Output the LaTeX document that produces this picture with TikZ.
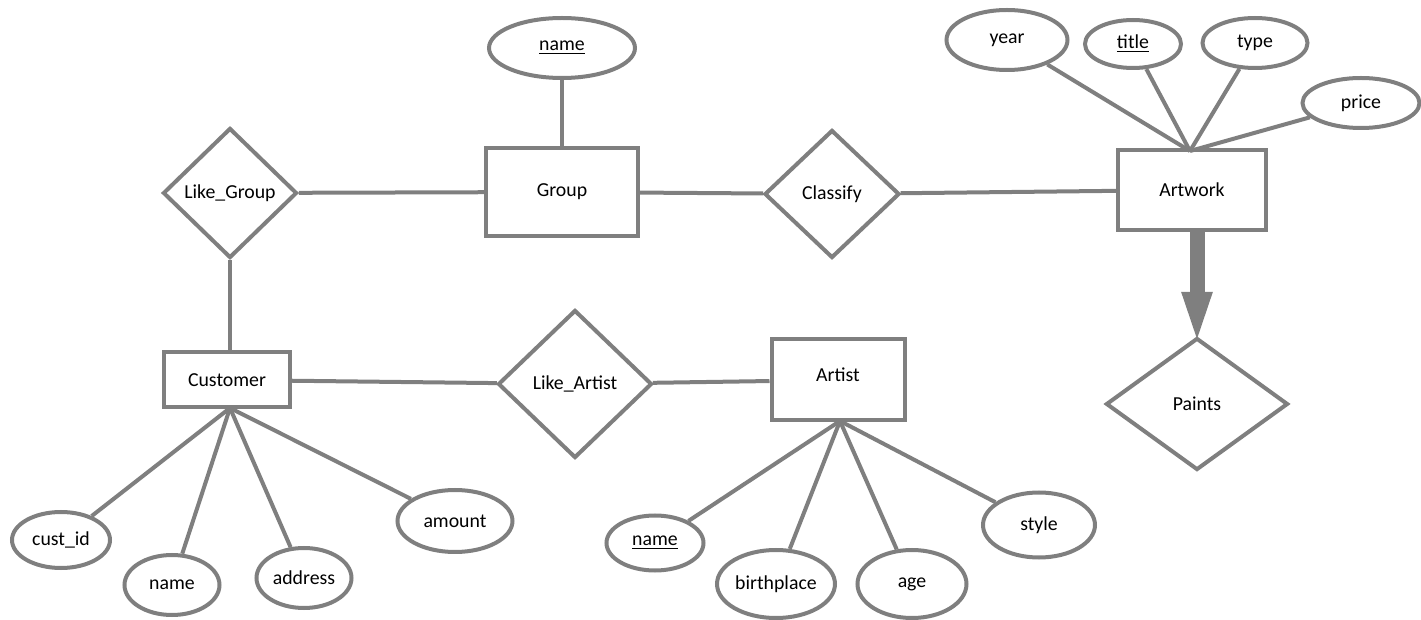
\documentclass[tikz,border=0pt]{standalone}
\usepackage{fontspec}
\setmainfont{Carlito}
\usepackage{tikz}
\usetikzlibrary{arrows.meta,shapes.geometric}
\definecolor{ergray}{RGB}{127,127,127}

\begin{document}
\begin{tikzpicture}[x=0.5pt, y=-0.5pt, font=\fontsize{9.9}{11}\selectfont]
\tikzstyle{entity} = [rectangle, draw=ergray, line width=2pt, inner sep=0pt]
\tikzstyle{relation} = [diamond, draw=ergray, line width=2pt, inner sep=0pt]
\tikzstyle{attr} = [ellipse, draw=ergray, line width=2pt, inner sep=0pt]
\tikzstyle{conn} = [draw=ergray, line width=2pt]
\useasboundingbox (0,0) rectangle (1421,620);
% entities and relations
\node[entity, minimum width=76pt, minimum height=44pt] (group) at (562,192) {Group};
\node[entity, minimum width=63pt, minimum height=27.5pt] (customer) at (227,380) {Customer\hspace{6pt}};
\node[entity, minimum width=66.5pt, minimum height=40.5pt] (artist) at (838,380) {\raisebox{5pt}{Artist}};
\node[entity, minimum width=74pt, minimum height=40pt] (artwork) at (1192,190) {Artwork\hspace{10pt}};
\node[relation, minimum width=67pt, minimum height=65pt] (likegroup) at (230,193) {Like\_Group};
\node[relation, minimum width=77pt, minimum height=74pt] (likeartist) at (575,384) {Like\_Artist};
\node[relation, minimum width=67.5pt, minimum height=64pt] (classify) at (832,194) {Classify};
\node[relation, minimum width=91pt, minimum height=66pt] (paints) at (1197,404) {Paints};
% attributes
\node[attr, minimum width=73pt, minimum height=30pt] (gname) at (562,48) {\underline{name}};
\node[attr, minimum width=60.5pt, minimum height=30pt] (year) at (1007,40) {year};
\node[attr, minimum width=48pt, minimum height=24pt] (title) at (1133,44) {\underline{title}};
\node[attr, minimum width=52.5pt, minimum height=25pt] (type) at (1255,43) {type};
\node[attr, minimum width=58.5pt, minimum height=25pt] (price) at (1361,103) {price};
\node[attr, minimum width=49pt, minimum height=28pt] (custid) at (61,540) {cust\_id};
\node[attr, minimum width=47.5pt, minimum height=30pt] (cname) at (172,585) {name};
\node[attr, minimum width=47.5pt, minimum height=30pt] (address) at (304,578) {address};
\node[attr, minimum width=57.5pt, minimum height=31pt] (amount) at (455,521) {amount};
\node[attr, minimum width=48.5pt, minimum height=27.5pt] (aname) at (655,543) {\underline{name}};
\node[attr, minimum width=59pt, minimum height=34pt] (birth) at (776,584) {birthplace};
\node[attr, minimum width=54.5pt, minimum height=34pt] (age) at (912,584) {age};
\node[attr, minimum width=56pt, minimum height=32.5pt] (style) at (1039,525) {style};
\coordinate (awtop) at (1190,151);
\coordinate (custbot) at (230,408);
\coordinate (artbot) at (840,421);
% connectors
\path[conn] (gname) -- (group);
\path[conn] (likegroup) -- (group);
\path[conn] (group) -- (classify);
\path[conn] (classify) -- (artwork);
\path[conn] (likegroup.south) -- (likegroup.south |- customer.north);
\path[conn] (customer) -- (likeartist);
\path[conn] (likeartist) -- (artist);
\foreach \a in {year, title, type, price}
  \path[conn] (\a) -- (awtop);
\foreach \a in {custid, cname, address, amount}
  \path[conn] (\a) -- (custbot);
\foreach \a in {aname, birth, age, style}
  \path[conn] (\a) -- (artbot);
\draw[ergray, line width=7.5pt, -{Triangle[width=13pt,length=28pt]}, shorten >=-6pt]
  (paints.north |- artwork.south) -- (paints.north);
\end{tikzpicture}
\end{document}
